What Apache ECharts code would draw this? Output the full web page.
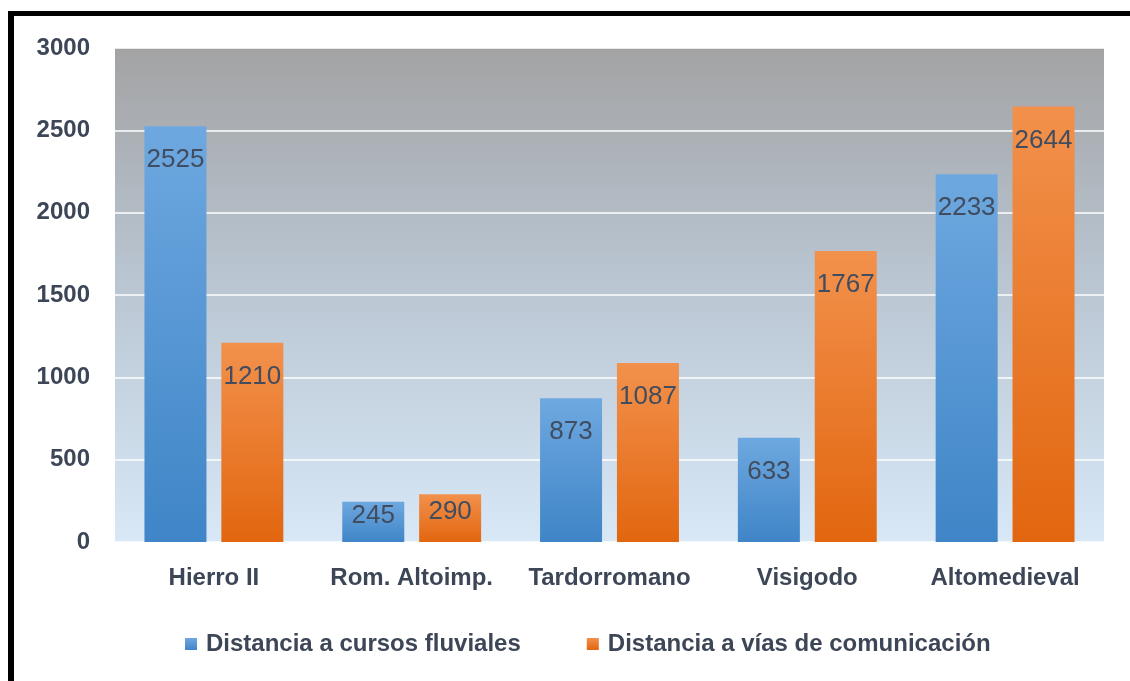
<!DOCTYPE html>
<html>
<head>
<meta charset="utf-8">
<script src="https://cdn.jsdelivr.net/npm/echarts@6/dist/echarts.min.js"></script>
<style>
  html, body { margin: 0; padding: 0; background: #fff; }
  #chart { width: 1130px; height: 681px; }
  .frame { position: absolute; left: 8px; top: 11px; right: 0; bottom: 0;
           border-top: 5px solid #000; border-left: 6px solid #000; pointer-events: none; }
</style>
</head>
<body>
<div id="chart"></div>
<div class="frame"></div>
<script>
// datos
const categories = ['Hierro II', 'Rom. Altoimp.', 'Tardorromano', 'Visigodo', 'Altomedieval'];
const fluviales = [2525, 245, 873, 633, 2233];
const vias = [1210, 290, 1087, 1767, 2644];
const seriesNames = ['Distancia a cursos fluviales', 'Distancia a vías de comunicación'];

const textColor = '#3d4657';
const G = echarts.graphic.LinearGradient;

const blueFill = new G(0, 0, 0, 1, [
  { offset: 0, color: '#6ea8e0' },
  { offset: 1, color: '#3f85c7' }
]);
const orangeFill = new G(0, 0, 0, 1, [
  { offset: 0, color: '#f2914c' },
  { offset: 1, color: '#e2660f' }
]);

// etiqueta: barras cortas centradas
const toData = arr => arr.map(v => ({
  value: v,
  label: v < 400 ? { position: 'inside', offset: [0, -6] } : { position: 'insideTop', distance: 21 }
}));

const chart = echarts.init(document.getElementById('chart'));
chart.setOption({
  animation: false,
  grid: {
    left: 115, right: 26, top: 48, bottom: 139,
    show: true, borderWidth: 0,
    backgroundColor: new G(0, 0, 0, 1, [
      { offset: 0, color: '#a3a3a4' },
      { offset: 0.45, color: '#b8c4d0' },
      { offset: 1, color: '#d8e8f7' }
    ])
  },
  legend: {
    top: 627,
    left: 180,
    itemWidth: 12, itemHeight: 12, itemGap: 66,
    icon: 'rect',
    textStyle: {
      fontFamily: 'Liberation Sans', fontWeight: 'bold', fontSize: 24, color: textColor,
      padding: [0, 0, 0, 4]
    }
  },
  xAxis: {
    type: 'category',
    data: categories,
    axisLine: { show: false },
    axisTick: { show: false },
    axisLabel: {
      interval: 0, hideOverlap: false,
      margin: 24, fontFamily: 'Liberation Sans', fontWeight: 'bold', fontSize: 24, color: textColor
    }
  },
  yAxis: {
    type: 'value',
    min: 0, max: 3000, interval: 500,
    axisLine: { show: false },
    axisTick: { show: false },
    splitLine: { lineStyle: { color: '#ffffff', width: 1.5 } },
    axisLabel: {
      margin: 25, fontFamily: 'Liberation Sans', fontWeight: 'bold', fontSize: 24, color: textColor,
      formatter: v => String(v)
    }
  },
  series: [
    {
      name: seriesNames[0], type: 'bar', data: toData(fluviales),
      barWidth: 62, barGap: '24%',
      itemStyle: { color: blueFill },
      label: { show: true, fontFamily: 'Liberation Sans', fontSize: 26, color: '#414c5f' }
    },
    {
      name: seriesNames[1], type: 'bar', data: toData(vias),
      barWidth: 62,
      itemStyle: { color: orangeFill },
      label: { show: true, fontFamily: 'Liberation Sans', fontSize: 26, color: '#414c5f' }
    }
  ]
});
</script>
</body>
</html>
